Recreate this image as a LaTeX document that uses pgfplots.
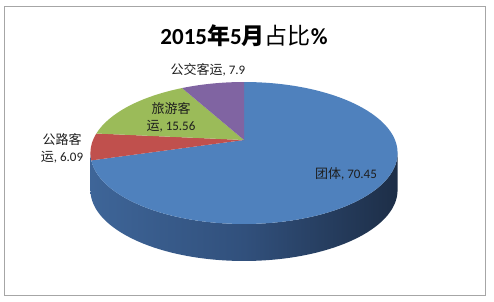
\documentclass[border=0pt]{standalone}
\usepackage{pgfplots}
\pgfplotsset{compat=1.18}
\usepackage{pgfplotstable}
\usepackage{fontspec}
\setmainfont{Carlito}
\newfontfamily\cjk{Noto Sans CJK SC}

\definecolor{cBlue}{HTML}{4F81BD}
\definecolor{cRed}{HTML}{C0504D}
\definecolor{cGreen}{HTML}{9BBB59}
\definecolor{cPurple}{HTML}{8064A2}
\definecolor{sideL}{HTML}{3E6598}
\definecolor{sideM}{HTML}{31507C}
\definecolor{sideR}{HTML}{1D2E47}
\definecolor{labcol}{HTML}{1E1E1E}

% pie values (percent), clockwise from 12 o'clock
\pgfplotstableread{
value
70.45
6.09
15.56
7.9
}\piedata

% perspective mapping: data angle -> ellipse parameter angle
\newcommand\phiof[2]{%
  \pgfmathsetmacro\tmpw{1+\kk*sin(#1)}%
  \pgfmathsetmacro\tmpX{\AA*cos(#1)/\tmpw}%
  \pgfmathsetmacro\tmpY{\BB*sin(#1)/\tmpw}%
  \pgfmathsetmacro#2{atan2((\tmpY+\vz)/\ry,\tmpX/\rx)}%
}

\begin{document}
\begin{tikzpicture}
\pgfmathsetmacro\kk{0.183}
\pgfmathsetmacro\AA{151}
\pgfmathsetmacro\BB{68.6}
\pgfmathsetmacro\vz{\BB*\kk/(1-\kk*\kk)}
\pgfmathsetmacro\rx{\AA/sqrt(1-\kk*\kk)}
\pgfmathsetmacro\ry{\BB/(1-\kk*\kk)}
\def\cx{244}\def\cy{161}
\pgfmathsetmacro\ecy{\cy-\vz}
\def\depth{37}

\pgfplotstablegetelem{0}{value}\of\piedata \let\vA\pgfplotsretval
\pgfplotstablegetelem{1}{value}\of\piedata \let\vB\pgfplotsretval
\pgfplotstablegetelem{2}{value}\of\piedata \let\vC\pgfplotsretval
\pgfplotstablegetelem{3}{value}\of\piedata \let\vD\pgfplotsretval
\pgfmathsetmacro\tA{90}
\pgfmathsetmacro\tB{\tA-3.6*\vA}
\pgfmathsetmacro\tC{\tB-3.6*\vB}
\pgfmathsetmacro\tD{\tC-3.6*\vC}
\pgfmathsetmacro\tE{\tD-3.6*\vD}
\phiof{\tA}\pA
\phiof{\tB}\pBr \pgfmathsetmacro\pB{\pBr-360*(\pBr>=\pA)}
\phiof{\tC}\pCr \pgfmathsetmacro\pC{\pCr-360*(\pCr>=\pB)}
\phiof{\tD}\pDr \pgfmathsetmacro\pD{\pDr-360*(\pDr>=\pC)}
\phiof{\tE}\pEr \pgfmathsetmacro\pE{\pEr-360*(\pEr>=\pD)}

\begin{axis}[scale only axis, width=494pt, height=301pt,
  xmin=0, xmax=494, ymin=0, ymax=301, hide axis, clip=false]
\path (axis cs:0,0) rectangle (axis cs:494,301);
\draw[black!35, line width=0.8pt] (axis cs:4.5,294.5) rectangle (axis cs:485,5.5);
\coordinate (O) at (axis cs:\cx,\ecy);
\coordinate (P) at (axis cs:\cx,\cy);
% side
\path[left color=sideL, right color=sideR, middle color=sideM]
  ([shift={(-180:\rx pt and \ry pt)}]O) arc[start angle=-180, end angle=0, x radius=\rx pt, y radius=\ry pt]
  -- ++(0pt,-\depth pt) arc[start angle=0, end angle=-180, x radius=\rx pt, y radius=\ry pt] -- cycle;
% top
\fill[cBlue] (P) -- ([shift={(\pA:\rx pt and \ry pt)}]O) arc[start angle=\pA, end angle=\pB, x radius=\rx pt, y radius=\ry pt] -- cycle;
\fill[cRed] (P) -- ([shift={(\pB:\rx pt and \ry pt)}]O) arc[start angle=\pB, end angle=\pC, x radius=\rx pt, y radius=\ry pt] -- cycle;
\fill[cGreen] (P) -- ([shift={(\pC:\rx pt and \ry pt)}]O) arc[start angle=\pC, end angle=\pD, x radius=\rx pt, y radius=\ry pt] -- cycle;
\fill[cPurple] (P) -- ([shift={(\pD:\rx pt and \ry pt)}]O) arc[start angle=\pD, end angle=\pE, x radius=\rx pt, y radius=\ry pt] -- cycle;
% labels
\node[font=\fontsize{23}{27}\selectfont\bfseries, text=black] at (axis cs:244,265)
  {2015{\cjk 年}5{\cjk 月}{\cjk\mdseries 占比}\%};
\node[font=\fontsize{13}{17}\selectfont, text=labcol] at (axis cs:208,231) {{\cjk 公交客运}, 7.9};
\node[font=\fontsize{13}{17}\selectfont, text=labcol, align=center] at (axis cs:171,183.5) {{\cjk 旅游客}\\{\cjk 运}, 15.56};
\node[font=\fontsize{13}{17}\selectfont, text=labcol, align=center] at (axis cs:62,152.5) {{\cjk 公路客}\\{\cjk 运}, 6.09};
\node[font=\fontsize{13}{17}\selectfont, text=labcol] at (axis cs:346,127) {{\cjk 团体}, 70.45};
\end{axis}
\end{tikzpicture}
\end{document}
